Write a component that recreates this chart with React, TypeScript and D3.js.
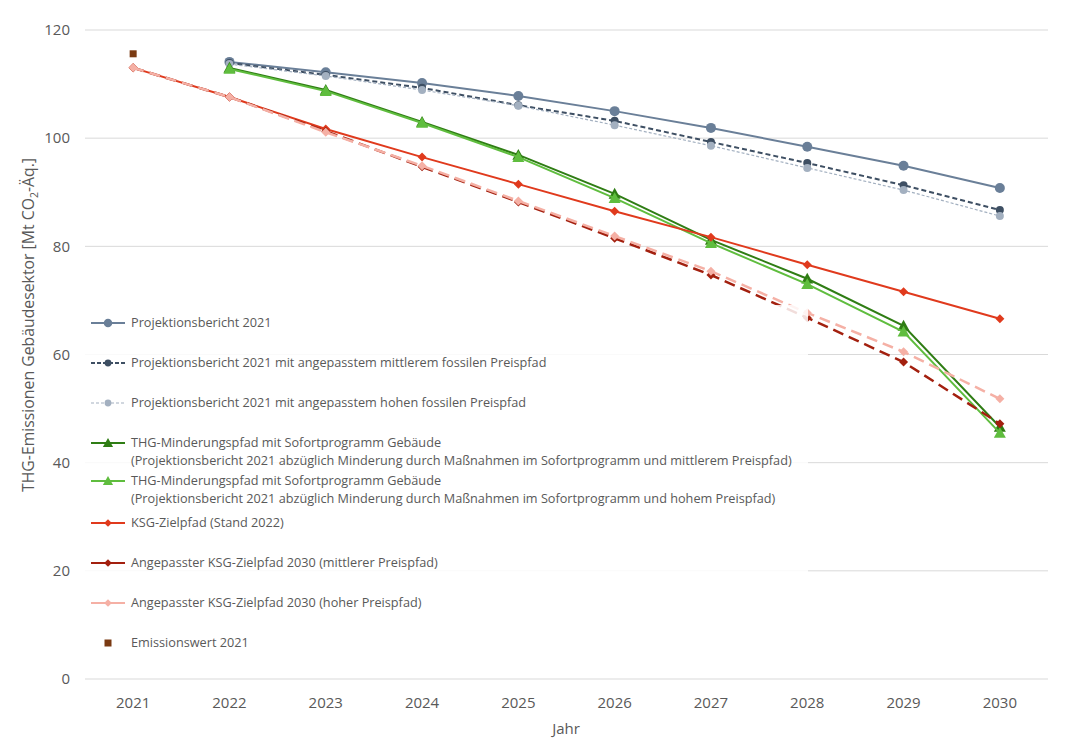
import React from "react";
import * as d3 from "d3";

const years = ["2021", "2022", "2023", "2024", "2025", "2026", "2027", "2028", "2029", "2030"];
const yTicks = [0, 20, 40, 60, 80, 100, 120];

const projektion = [null, 114.1, 112.2, 110.2, 107.8, 105.0, 101.9, 98.4, 94.9, 90.8];
const projMittel = [null, 113.9, 111.7, 109.3, 106.1, 103.2, 99.3, 95.4, 91.3, 86.7];
const projHoch = [null, 113.7, 111.5, 108.9, 106.0, 102.4, 98.6, 94.5, 90.4, 85.6];
const thgMittel = [null, 113.0, 108.9, 103.0, 96.9, 89.7, 81.2, 74.0, 65.3, 46.6];
const thgHoch = [null, 112.8, 108.7, 102.8, 96.5, 88.9, 80.6, 73.0, 64.2, 45.5];
const ksg = [113.0, 107.6, 101.7, 96.5, 91.5, 86.5, 81.7, 76.6, 71.6, 66.6];
const ksgMittel = [113.0, 107.6, 101.3, 94.7, 88.2, 81.5, 74.7, 66.8, 58.6, 47.2];
const ksgHoch = [113.0, 107.6, 101.1, 94.9, 88.4, 81.9, 75.4, 67.7, 60.5, 51.8];
const emission = [115.6, null, null, null, null, null, null, null, null, null];

type S = {
  name: string[];
  data: (number | null)[];
  color: string;
  width: number;
  dash?: string;
  legendDash?: string;
  marker: "circle" | "triangle" | "diamond" | "square";
  size: number;
  line: boolean;
};

const series: S[] = [
  { name: ["Projektionsbericht 2021"], data: projektion, color: "#6a7f98", width: 2, marker: "circle", size: 5, line: true },
  { name: ["Projektionsbericht 2021 mit angepasstem mittlerem fossilen Preispfad"], data: projMittel, color: "#3e4f63", width: 2, dash: "5,3", legendDash: "4,2", marker: "circle", size: 4, line: true },
  { name: ["Projektionsbericht 2021 mit angepasstem hohen fossilen Preispfad"], data: projHoch, color: "#a3b0c0", width: 1.2, dash: "3,2", legendDash: "3,2", marker: "circle", size: 4, line: true },
  { name: ["THG-Minderungspfad mit Sofortprogramm Gebäude", "(Projektionsbericht 2021 abzüglich Minderung durch Maßnahmen im Sofortprogramm und mittlerem Preispfad)"], data: thgMittel, color: "#2f7d14", width: 2, marker: "triangle", size: 6, line: true },
  { name: ["THG-Minderungspfad mit Sofortprogramm Gebäude", "(Projektionsbericht 2021 abzüglich Minderung durch Maßnahmen im Sofortprogramm und hohem Preispfad)"], data: thgHoch, color: "#5fbd3e", width: 2, marker: "triangle", size: 6, line: true },
  { name: ["KSG-Zielpfad (Stand 2022)"], data: ksg, color: "#e03a1d", width: 2, marker: "diamond", size: 4.5, line: true },
  { name: ["Angepasster KSG-Zielpfad 2030 (mittlerer Preispfad)"], data: ksgMittel, color: "#a3200f", width: 2.5, dash: "11,6", marker: "diamond", size: 4.5, line: true },
  { name: ["Angepasster KSG-Zielpfad 2030 (hoher Preispfad)"], data: ksgHoch, color: "#f5b0a5", width: 2.5, dash: "11,6", marker: "diamond", size: 4.5, line: true },
  { name: ["Emissionswert 2021"], data: emission, color: "#7a3a12", width: 0, marker: "square", size: 3.5, line: false },
];

const legendY = [323, 363, 403, 443, 481, 523, 563, 603, 643];

function Marker({ type, x, y, size, color }: { type: string; x: number; y: number; size: number; color: string }) {
  if (type === "circle") return <circle cx={x} cy={y} r={size} fill={color} />;
  if (type === "square") return <rect x={x - size} y={y - size} width={size * 2} height={size * 2} fill={color} />;
  if (type === "triangle") {
    const s = size;
    return <path d={`M${x},${y - s}L${x + s},${y + s * 0.8}L${x - s},${y + s * 0.8}Z`} fill={color} />;
  }
  const s = size;
  return <path d={`M${x},${y - s}L${x + s},${y}L${x},${y + s}L${x - s},${y}Z`} fill={color} />;
}

export default function App() {
  const W = 1087, H = 754;
  const left = 85, right = 1048, top = 30, bottom = 679;
  const x = d3.scaleBand<string>().domain(years).range([left, right]);
  const y = d3.scaleLinear().domain([0, 120]).range([bottom, top]);
  const cx = (yr: string) => (x(yr) as number) + x.bandwidth() / 2;
  const font = "'Open Sans', sans-serif";
  const textColor = "#595959";

  const lineGen = d3
    .line<(number | null)>()
    .defined((d) => d !== null)
    .x((_, i) => cx(years[i]))
    .y((d) => y(d as number));

  return (
    <div style={{ position: "absolute", left: 0, top: 0 }}>
      <svg width={W} height={H} style={{ display: "block", background: "#fff" }}>
        {yTicks.map((t) => (
          <g key={t}>
            <line x1={left} x2={right} y1={y(t)} y2={y(t)} stroke="#d9d9d9" strokeWidth={1} />
            <text x={70} y={y(t)} dy="0.35em" textAnchor="end" fontFamily={font} fontSize={15} fill={textColor}>
              {t}
            </text>
          </g>
        ))}
        {years.map((yr) => (
          <text key={yr} x={cx(yr)} y={708} textAnchor="middle" fontFamily={font} fontSize={15} fill={textColor}>
            {yr}
          </text>
        ))}
        <text x={566} y={734} textAnchor="middle" fontFamily={font} fontSize={15} fill={textColor}>
          Jahr
        </text>
        <text
          transform={`translate(34, 325) rotate(-90)`}
          textAnchor="middle"
          fontFamily={font}
          fontSize={15.8}
          fill={textColor}
        >
          THG-Emissionen Gebäudesektor [Mt CO
          <tspan fontSize={10.5} dy={4}>2</tspan>
          <tspan dy={-4}>-Äq.]</tspan>
        </text>

        {series.map((s, i) => (
          <g key={i}>
            {s.line && (
              <path d={lineGen(s.data) || ""} fill="none" stroke={s.color} strokeWidth={s.width} strokeDasharray={s.dash} />
            )}
            {s.data.map((v, j) =>
              v === null ? null : <Marker key={j} type={s.marker} x={cx(years[j])} y={y(v)} size={s.size} color={s.color} />
            )}
          </g>
        ))}

        <rect x={left} y={305} width={723} height={355} fill="#fff" fillOpacity={0.85} />
        {series.map((s, i) => {
          const ly = legendY[i];
          return (
            <g key={i}>
              {s.line && (
                <line x1={91} x2={125} y1={ly} y2={ly} stroke={s.color} strokeWidth={Math.min(s.width, 2)} strokeDasharray={s.legendDash} />
              )}
              <Marker type={s.marker} x={108} y={ly} size={s.marker === "square" ? 3.5 : s.size * 0.85} color={s.color} />
              {s.name.map((n, k) => (
                <text key={k} x={131} y={ly + k * 18} dy="0.35em" fontFamily={font} fontSize={12.7} fill={textColor}>
                  {n}
                </text>
              ))}
            </g>
          );
        })}
      </svg>
    </div>
  );
}
